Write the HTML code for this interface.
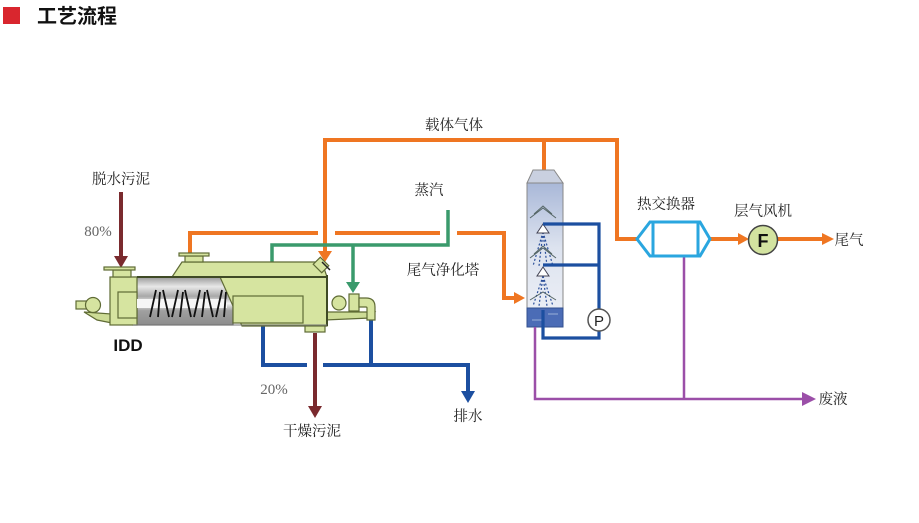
<!DOCTYPE html>
<html><head><meta charset="utf-8"><style>
html,body{margin:0;padding:0;background:#fff;}
body{width:919px;height:523px;overflow:hidden;}
svg{display:block;}
.t{font-family:"Liberation Serif","Noto Serif CJK SC",serif;font-size:14.5px;fill:#222;}
.p{font-family:"Liberation Serif","Noto Serif CJK SC",serif;font-size:15px;fill:#666;}
</style></head><body>
<svg width="919" height="523" viewBox="0 0 919 523" xmlns="http://www.w3.org/2000/svg">
<defs>
<linearGradient id="tw" x1="0" y1="0" x2="0" y2="1">
<stop offset="0" stop-color="#a9b8d8"/>
<stop offset="0.45" stop-color="#dde3ef"/>
<stop offset="1" stop-color="#eef1f7"/>
</linearGradient>
<linearGradient id="tr" x1="0" y1="0" x2="0" y2="1">
<stop offset="0" stop-color="#9a9a9a"/>
<stop offset="0.2" stop-color="#e8e8e8"/>
<stop offset="0.4" stop-color="#a8a8a8"/>
<stop offset="0.55" stop-color="#f4f4f4"/>
<stop offset="0.7" stop-color="#a0a0a0"/>
<stop offset="1" stop-color="#8c8c8c"/>
</linearGradient>
</defs>

<!-- title -->
<rect x="3" y="7" width="17" height="17" fill="#d9262e"/>
<text x="37" y="23" font-family="'Liberation Sans','Noto Sans CJK SC',sans-serif" font-size="20" font-weight="bold" fill="#111">工艺流程</text>

<!-- orange carrier gas -->
<g fill="none" stroke="#ef7622" stroke-width="4">
<polyline points="325,252 325,140 617,140 617,239 637,239"/>
<line x1="544" y1="140" x2="544" y2="171"/>
<polyline points="190,254 190,233 318,233"/>
<line x1="335" y1="233" x2="440" y2="233"/>
<polyline points="457,233 504,233 504,298 516,298"/>
<line x1="710" y1="239" x2="740" y2="239"/>
<line x1="778" y1="239" x2="824" y2="239"/>
</g>
<g fill="#ef7622">
<polygon points="318,251 332,251 325,262"/>
<polygon points="514,292 525,298 514,304"/>
<polygon points="738,233 749,239 738,245"/>
<polygon points="822,233 834,239 822,245"/>
</g>

<!-- green steam -->
<g fill="none" stroke="#3a9a6c" stroke-width="3.5">
<polyline points="448,210 448,245 272,245 272,270"/>
<line x1="353" y1="245" x2="353" y2="284"/>
</g>
<g fill="#3a9a6c">
<polygon points="265,267 279,267 272,278"/>
<polygon points="346,282 360,282 353,293"/>
</g>

<!-- brown sludge -->
<g stroke="#7a2a2e" stroke-width="4" fill="none">
<line x1="121" y1="192" x2="121" y2="258"/>
<line x1="315" y1="333" x2="315" y2="408"/>
</g>
<g fill="#7a2a2e">
<polygon points="114,256 128,256 121,268"/>
<polygon points="308,406 322,406 315,418"/>
</g>

<!-- blue drain -->
<g fill="none" stroke="#1c4fa0" stroke-width="4">
<polyline points="263,325 263,365 307,365"/>
<polyline points="323,365 468,365 468,393"/>
<line x1="371" y1="318" x2="371" y2="365"/>
</g>
<polygon points="461,391 475,391 468,403" fill="#1c4fa0"/>

<!-- machine -->
<g stroke="#5f6b35" stroke-width="1.2">
<!-- base plate -->
<polygon points="84,312 112,314 112,323 97,320" fill="#cddc96"/>
<polygon points="325,312 375,312 370,318 325,320" fill="#cddc96"/>
<!-- left motor -->
<rect x="76" y="301" width="12" height="8" fill="#d6e4a0"/>
<circle cx="93" cy="305" r="7.5" fill="#d6e4a0"/>
<!-- trough -->
<rect x="133" y="277" width="100" height="48" fill="url(#tr)" stroke="#666"/>
<!-- left end -->
<rect x="110" y="277" width="27" height="48" fill="#d6e4a0"/>
<rect x="118" y="292" width="19" height="26" fill="#d6e4a0"/>
<rect x="113" y="270" width="18" height="7" fill="#d6e4a0"/>
<rect x="104" y="267" width="31" height="3" fill="#d6e4a0"/>
<!-- hood -->
<polygon points="172,277 182,262 322,262 327,277" fill="#d6e4a0"/>
<rect x="185" y="256" width="18" height="6" fill="#d6e4a0"/>
<rect x="179" y="253" width="30" height="3" fill="#d6e4a0"/>
<!-- right block -->
<polygon points="220,277 327,277 327,326 242,326" fill="#d6e4a0"/>
<rect x="233" y="296" width="70" height="27" fill="#d6e4a0"/>
<!-- outlet -->
<rect x="305" y="326" width="20" height="6" fill="#d6e4a0"/>
<!-- top nozzle angled -->
<rect x="316" y="259" width="10" height="12" fill="#d6e4a0" transform="rotate(-45 321 265)"/>
<!-- right end -->
<circle cx="339" cy="303" r="7" fill="#d6e4a0"/>
<rect x="349" y="294" width="10" height="17" fill="#d6e4a0"/>
<path d="M359,298 L366,298 Q375,298 375,307 L375,320 L367,320 L367,308 Q367,307 366,307 L359,307 Z" fill="#d6e4a0"/>
</g>
<line x1="137" y1="277" x2="327" y2="277" stroke="#3f4a25" stroke-width="2"/>
<line x1="327" y1="275" x2="327" y2="326" stroke="#3f4a25" stroke-width="2"/>
<line x1="133" y1="325" x2="327" y2="325" stroke="#777" stroke-width="1"/>
<!-- screw -->
<rect x="137" y="299" width="90" height="9" fill="#f6f6f6"/>
<g stroke="#111" stroke-width="1.8" fill="none">
<path d="M150,317 L156,290 M158,317 L160,292 M163,290 L169,317 M172,317 L178,290 M180,317 L183,292 M185,290 L191,317 M194,317 L200,290 M202,317 L205,292 M207,290 L213,317 M216,317 L222,290 M224,317 L226,292"/>
</g>
<line x1="322" y1="262" x2="330" y2="270" stroke="#222" stroke-width="1.5"/>

<!-- tower -->
<polygon points="533,170 554,170 563,183 527,183" fill="#c9d0e0" stroke="#888" stroke-width="1"/>
<rect x="527" y="183" width="36" height="144" fill="url(#tw)" stroke="#888" stroke-width="1"/>
<rect x="527" y="308" width="36" height="19" fill="#4b6cb6" stroke="#33508f" stroke-width="1"/>
<g stroke="#9ab0d8" stroke-width="1"><line x1="548" y1="314" x2="558" y2="314"/><line x1="532" y1="320" x2="542" y2="320"/></g>
<g stroke="#2b4f9a" stroke-width="1.2" fill="none" stroke-dasharray="2,2">
<path d="M543,232 L533,266 M543,232 L539,266 M543,232 L547,266 M543,232 L553,266"/>
<path d="M543,276 L533,306 M543,276 L539,306 M543,276 L547,306 M543,276 L553,306"/>
</g>
<g stroke="#566" stroke-width="1" fill="none">
<path d="M530,218 L543,208 L556,218 M534,214 L543,206 L552,214"/>
<path d="M530,258 L543,248 L556,258 M534,254 L543,246 L552,254"/>
<path d="M530,300 L543,292 L556,300"/>
</g>
<polygon points="543,224 549,233 537,233" fill="#fff" stroke="#445" stroke-width="1"/>
<polygon points="543,267 549,276 537,276" fill="#fff" stroke="#445" stroke-width="1"/>
<g fill="none" stroke="#1c4fa0" stroke-width="3.2">
<polyline points="543,224 599,224 599,309"/>
<line x1="543" y1="265" x2="599" y2="265"/>
<polyline points="599,331 599,338 543,338 543,310"/>
</g>
<circle cx="599" cy="320" r="11" fill="#fff" stroke="#555" stroke-width="1.5"/>
<text x="599" y="326" text-anchor="middle" font-family="'Liberation Sans',sans-serif" font-size="15" fill="#222">P</text>

<!-- purple waste -->
<g fill="none" stroke="#9b4fa8" stroke-width="2.5">
<polyline points="535,327 535,399 805,399"/>
<line x1="684" y1="256" x2="684" y2="399"/>
</g>
<polygon points="802,392 816,399 802,406" fill="#9b4fa8"/>

<!-- heat exchanger -->
<g fill="#fff" stroke="#2aa6df" stroke-width="3">
<polygon points="637,239 650,222 700,222 710,239 700,256 650,256"/>
<line x1="653" y1="223" x2="653" y2="255"/>
<line x1="698" y1="223" x2="698" y2="255"/>
</g>
<!-- fan -->
<circle cx="763" cy="240" r="14.5" fill="#d3e3a0" stroke="#444" stroke-width="1.5"/>
<text x="763" y="247" text-anchor="middle" font-family="'Liberation Sans',sans-serif" font-size="18" font-weight="bold" fill="#111">F</text>

<!-- labels -->
<text class="t" x="121" y="184" text-anchor="middle">脱水污泥</text>
<text class="p" x="98" y="236" text-anchor="middle">80%</text>
<text class="t" x="454" y="130" text-anchor="middle">载体气体</text>
<text class="t" x="429" y="195" text-anchor="middle">蒸汽</text>
<text class="t" x="443" y="275" text-anchor="middle">尾气净化塔</text>
<text class="t" x="666" y="209" text-anchor="middle">热交换器</text>
<text class="t" x="763" y="216" text-anchor="middle">层气风机</text>
<text class="t" x="849" y="245" text-anchor="middle" font-family="'Liberation Sans','Noto Sans CJK SC',sans-serif">尾气</text>
<text x="128" y="351" text-anchor="middle" font-family="'Liberation Sans',sans-serif" font-size="17" font-weight="bold" fill="#111">IDD</text>
<text class="p" x="274" y="394" text-anchor="middle">20%</text>
<text class="t" x="312" y="436" text-anchor="middle">干燥污泥</text>
<text class="t" x="468" y="421" text-anchor="middle">排水</text>
<text class="t" x="833" y="404" text-anchor="middle">废液</text>
</svg>
</body></html>
